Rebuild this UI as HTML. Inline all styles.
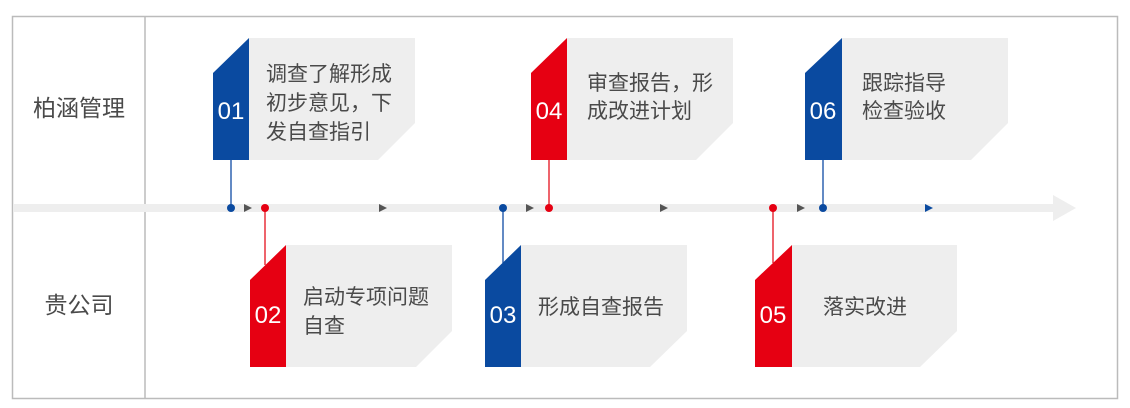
<!DOCTYPE html>
<html><head><meta charset="utf-8"><style>
html,body{margin:0;padding:0;background:#fff;}
svg{display:block;}
text{font-family:"Liberation Sans","Noto Sans CJK SC",sans-serif;}
.t{font-size:21px;fill:#4a4a4a;}
.n{font-size:24px;fill:#fff;text-anchor:middle;}
</style></head><body>
<svg width="1130" height="408" viewBox="0 0 1130 408" xmlns="http://www.w3.org/2000/svg">
<rect x="12.5" y="16.5" width="1105" height="382" fill="none" stroke="#bbb" stroke-width="1.5"/>
<line x1="145" y1="16" x2="145" y2="399" stroke="#bbb" stroke-width="1.5"/>
<rect x="13" y="204" width="1042" height="8" fill="#eeeeee"/>
<polygon points="1053,195 1076,208 1053,221" fill="#eeeeee"/>
<text x="79" y="116" class="t" text-anchor="middle" style="font-size:23px">柏涵管理</text>
<text x="79" y="313" class="t" text-anchor="middle" style="font-size:23px">贵公司</text>
<g fill="#555">
<polygon points="244,204 252,208 244,212"/>
<polygon points="379,204 387,208 379,212"/>
<polygon points="526,204 534,208 526,212"/>
<polygon points="660,204 668,208 660,212"/>
<polygon points="797,204 805,208 797,212"/>
</g>
<polygon points="925,204 933,208 925,212" fill="#0a4aa0"/>
<g stroke-width="1.5">
<line x1="231" y1="160" x2="231" y2="208" stroke="#2f63b0"/>
<line x1="265" y1="208" x2="265" y2="265" stroke="#e8303a"/>
<line x1="503" y1="208" x2="503" y2="263" stroke="#2f63b0"/>
<line x1="549" y1="160" x2="549" y2="208" stroke="#e8303a"/>
<line x1="773" y1="208" x2="773" y2="263" stroke="#e8303a"/>
<line x1="823" y1="160" x2="823" y2="208" stroke="#2f63b0"/>
</g>
<g>
<circle cx="231" cy="208" r="4" fill="#0a4aa0"/>
<circle cx="265" cy="208" r="4" fill="#e60012"/>
<circle cx="503" cy="208" r="4" fill="#0a4aa0"/>
<circle cx="549" cy="208" r="4" fill="#e60012"/>
<circle cx="773" cy="208" r="4" fill="#e60012"/>
<circle cx="823" cy="208" r="4" fill="#0a4aa0"/>
</g>
<polygon points="249,38 415,38 415,123 378,160 249,160" fill="#eeeeee"/>
<polygon points="213,73 249,38 249,160 213,160" fill="#0a4aa0"/>
<text x="231" y="119" class="n">01</text>
<text x="266" y="81" class="t">调查了解形成</text>
<text x="266" y="110" class="t">初步意见，下</text>
<text x="266" y="139" class="t">发自查指引</text>
<polygon points="286,245 452,245 452,331 416,367 286,367" fill="#eeeeee"/>
<polygon points="250,280 286,245 286,367 250,367" fill="#e60012"/>
<text x="268" y="323" class="n">02</text>
<text x="303" y="304" class="t">启动专项问题</text>
<text x="303" y="333" class="t">自查</text>
<polygon points="521,245 687,245 687,331 650,367 521,367" fill="#eeeeee"/>
<polygon points="485,280 521,245 521,367 485,367" fill="#0a4aa0"/>
<text x="503" y="323" class="n">03</text>
<text x="538" y="314" class="t">形成自查报告</text>
<polygon points="567,38 733,38 733,123 696,160 567,160" fill="#eeeeee"/>
<polygon points="531,73 567,38 567,160 531,160" fill="#e60012"/>
<text x="549" y="119" class="n">04</text>
<text x="587" y="90" class="t">审查报告，形</text>
<text x="587" y="118" class="t">成改进计划</text>
<polygon points="792,245 957,245 957,331 920,367 792,367" fill="#eeeeee"/>
<polygon points="755,280 792,245 792,367 755,367" fill="#e60012"/>
<text x="773" y="323" class="n">05</text>
<text x="823" y="314" class="t">落实改进</text>
<polygon points="842,38 1008,38 1008,123 971,160 842,160" fill="#eeeeee"/>
<polygon points="805,73 842,38 842,160 805,160" fill="#0a4aa0"/>
<text x="823" y="119" class="n">06</text>
<text x="862" y="90" class="t">跟踪指导</text>
<text x="862" y="118" class="t">检查验收</text>
</svg>
</body></html>
